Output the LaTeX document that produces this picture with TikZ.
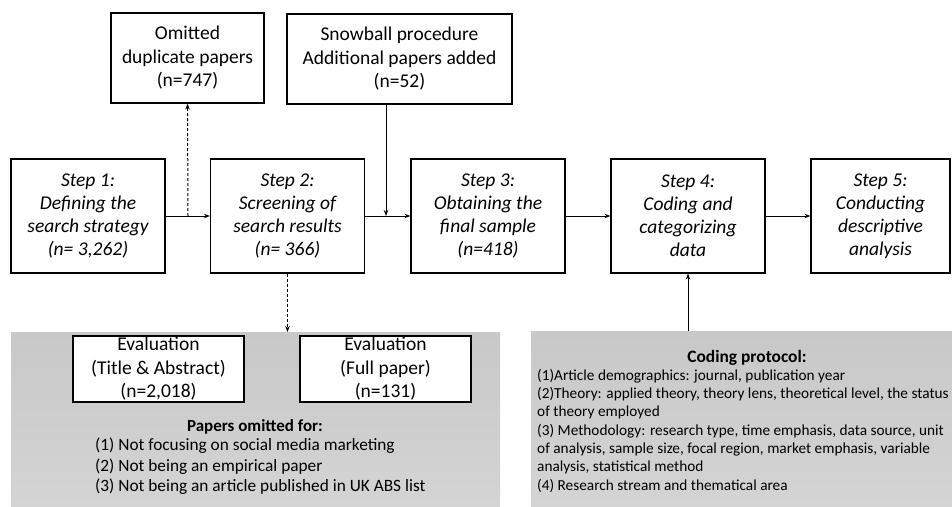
\documentclass[tikz,border=0pt]{standalone}
\usepackage{fontspec}
\setmainfont{Carlito}
\usepackage{xcolor}
\usetikzlibrary{arrows.meta}
\definecolor{paneltop}{RGB}{200,200,200}
\definecolor{panelbot}{RGB}{212,212,212}

\tikzset{
  stepbox/.style={draw, line width=1.2pt, fill=white, align=center,
    minimum width=154pt, minimum height=114pt, inner sep=0pt,
    font=\fontsize{19.5}{23}\selectfont\itshape},
  infobox/.style={draw, line width=1.2pt, fill=white, align=center,
    minimum height=90pt, inner sep=0pt, font=\fontsize{19.5}{23.5}\selectfont},
  evalbox/.style={draw, line width=1.2pt, fill=white, align=center,
    minimum width=171pt, minimum height=66pt, inner sep=0pt,
    font=\fontsize{19.5}{23.5}\selectfont},
  panel/.style={top color=paneltop, bottom color=panelbot, inner sep=0pt, anchor=north west},
  flow/.style={line width=1pt, -{Stealth[length=6pt,width=4.5pt]}},
  dflow/.style={flow, dashed, dash pattern=on 3pt off 2pt}
}

\begin{document}
\begin{tikzpicture}[x=1pt, y=-1pt]
\useasboundingbox (0,0) rectangle (952,506);

% grey panels
\node[panel, minimum width=489pt, minimum height=174pt] (omitpanel) at (11,332) {};
\node[panel, minimum width=421pt, minimum height=175pt] (codepanel) at (531,331) {};

% steps
\node[stepbox] (s1) at (88,216) {Step 1:\\Defining the\\search strategy\\(\textit{n}= 3,262)};
\node[stepbox] (s2) at (287.5,216) {Step 2:\\Screening of\\search results\\(\textit{n}= 366)};
\node[stepbox] (s3) at (488,216) {Step 3:\\Obtaining the\\final sample\\(\textit{n}=418)};
\node[stepbox] (s4) at (688,216) {Step 4:\\Coding and\\categorizing\\data};
\node[stepbox, minimum width=139pt] (s5) at (880.5,216) {Step 5:\\Conducting\\descriptive\\analysis};

% side boxes
\node[infobox, minimum width=153pt] (dup) at (187.5,58) {Omitted\\duplicate papers\\(n=747)};
\node[infobox, minimum width=225pt] (snow) at (399.5,59) {Snowball procedure\\Additional papers added\\(n=52)};

\node[evalbox] (ev1) at (158.5,369) {Evaluation\\(Title \& Abstract)\\(n=2,018)};
\node[evalbox] (ev2) at (385.5,369) {Evaluation\\(Full paper)\\(n=131)};

\node[font=\fontsize{17}{20.5}\selectfont\bfseries] (omhead) at (255,427) {Papers omitted for:};
\node[anchor=north west, align=left, inner sep=0pt, font=\fontsize{17.3}{20.5}\selectfont] (omlist) at (95,438)
  {(1) Not focusing on social media marketing\\(2) Not being an empirical paper\\(3) Not being an article published in UK ABS list};

\node[font=\fontsize{17.4}{18.3}\selectfont\bfseries] (cphead) at (747,358) {Coding protocol:};
\node[anchor=north west, align=left, inner sep=0pt, font=\fontsize{15.3}{18.3}\selectfont] (cplist) at (537,369)
  {(1)Article demographics: journal, publication year\\
   (2)Theory: applied theory, theory lens, theoretical level, the status\\
   of theory employed\\
   (3) Methodology: research type, time emphasis, data source, unit\\
   of analysis, sample size, focal region, market emphasis, variable\\
   analysis, statistical method\\
   (4) Research stream and thematical area};

% connectors
\coordinate (j1) at (188,216);
\coordinate (j2) at (386,216);
\draw[flow] (s1.east) -- (s2.west);
\draw[dflow] (j1) -- (dup.south);
\draw[flow] (s2.east) -- (s3.west);
\draw[flow] (snow.south -| j2) -- (j2);
\draw[flow] (s3.east) -- (s4.west);
\draw[flow] (s4.east) -- (s5.west);
\draw[dflow] (s2.south) -- (s2.south |- omitpanel.north);
\draw[flow] (s4.south |- codepanel.north) -- (s4.south);
\end{tikzpicture}
\end{document}
